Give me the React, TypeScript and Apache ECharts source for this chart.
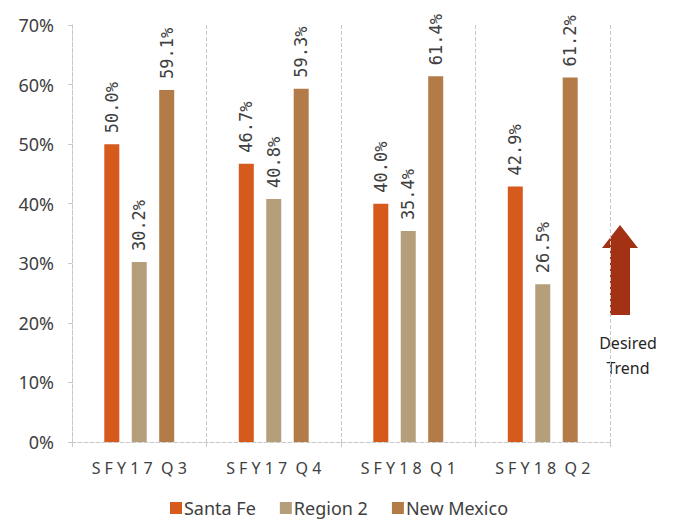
import React, { useEffect, useRef } from "react";
import * as echarts from "echarts";

const categories = ["SFY17 Q3", "SFY17 Q4", "SFY18 Q1", "SFY18 Q2"];
const santaFe = [50.0, 46.7, 40.0, 42.9];
const region2 = [30.2, 40.8, 35.4, 26.5];
const newMexico = [59.1, 59.3, 61.4, 61.2];
const seriesNames = ["Santa Fe", "Region 2", "New Mexico"];
const colors = ["#D65A1B", "#B59F7B", "#B37B48"];
const yTicks = [0, 10, 20, 30, 40, 50, 60, 70];

const FONT = "'Noto Sans', 'DejaVu Sans', sans-serif";
const MONO = "'DejaVu Sans Mono', 'Liberation Mono', monospace";

export default function App() {
  const ref = useRef<HTMLDivElement>(null);
  useEffect(() => {
    if (!ref.current) return;
    const chart = echarts.init(ref.current, undefined, { renderer: "svg" });
    const mk = (name: string, data: number[], color: string) => ({
      name,
      type: "bar",
      data,
      barWidth: 15,
      barGap: "83%",
      itemStyle: { color },
      label: {
        show: true,
        position: "top",
        rotate: 90,
        align: "left",
        verticalAlign: "middle",
        distance: 11,
        fontFamily: MONO,
        fontSize: 17,
        color: "#404040",
        formatter: (p: any) => p.value.toFixed(1) + "%",
      },
    });
    chart.setOption({
      animation: false,
      backgroundColor: "#ffffff",
      grid: { left: 72, right: 68, top: 25, bottom: 81 },
      legend: {
        data: seriesNames,
        bottom: 1,
        left: "center",
        icon: "rect",
        itemWidth: 12,
        itemHeight: 12,
        itemGap: 24,
        textStyle: { fontFamily: FONT, fontSize: 18, color: "#404040", padding: [0, 0, 0, -3] },
      },
      xAxis: {
        type: "category",
        data: categories,
        axisLine: { lineStyle: { color: "#c8c8c8", type: "dashed" } },
        axisTick: { show: true, length: 5, lineStyle: { color: "#c8c8c8" } },
        splitLine: { show: true, lineStyle: { color: "#c8c8c8", type: "dashed" } },
        axisLabel: {
          margin: 18,
          fontFamily: FONT,
          fontSize: 16,
          color: "#404040",
          formatter: (v: string) =>
            v
              .split(" ")
              .map((w) => w.split("").join(" "))
              .join("  "),
        },
      },
      yAxis: {
        type: "value",
        min: 0,
        max: 70,
        interval: 10,
        axisLine: { show: true, lineStyle: { color: "#c8c8c8", type: "dashed" } },
        axisTick: { show: true, length: 4, lineStyle: { color: "#c8c8c8" } },
        splitLine: { show: false },
        axisLabel: {
          margin: 18,
          fontFamily: FONT,
          fontSize: 18,
          color: "#404040",
          formatter: (v: number) => (yTicks.includes(v) ? v + "%" : ""),
        },
      },
      graphic: [
        {
          type: "polygon",
          shape: {
            points: [
              [620, 225],
              [638, 248],
              [630, 248],
              [630, 315],
              [610, 315],
              [610, 248],
              [602, 248],
            ],
          },
          style: { fill: "#A33215" },
        },
        {
          type: "text",
          x: 628,
          y: 355,
          style: {
            text: "Desired\nTrend",
            align: "center",
            verticalAlign: "middle",
            fontFamily: FONT,
            fontSize: 16,
            lineHeight: 25,
            fill: "#262626",
          },
        },
      ],
      series: [
        mk(seriesNames[0], santaFe, colors[0]),
        mk(seriesNames[1], region2, colors[1]),
        mk(seriesNames[2], newMexico, colors[2]),
      ],
    });
    return () => chart.dispose();
  }, []);
  return (
    <div
      ref={ref}
      style={{ position: "absolute", left: 0, top: 0, width: 678, height: 523 }}
    />
  );
}
